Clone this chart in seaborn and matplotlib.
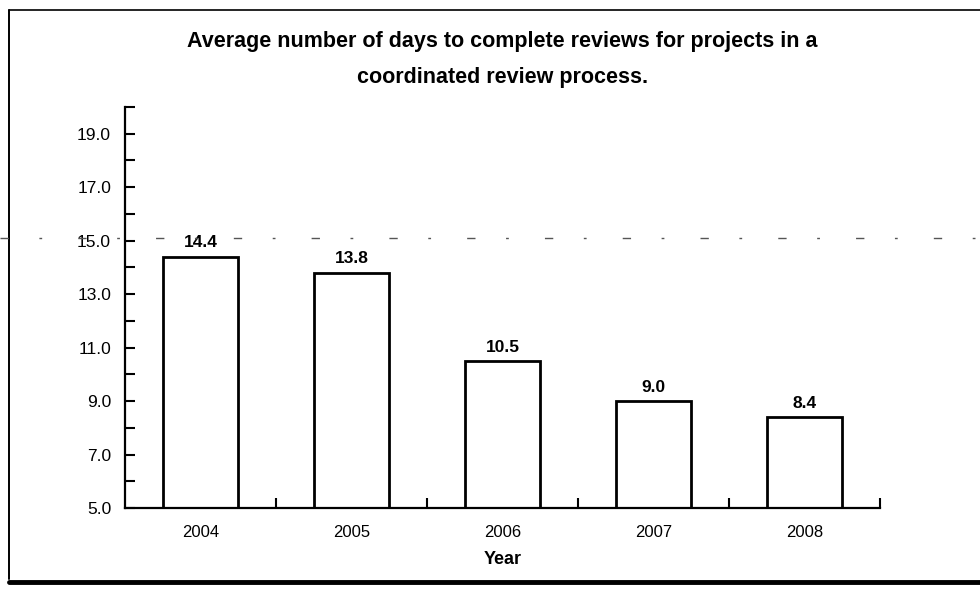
import matplotlib
matplotlib.use("Agg")
import matplotlib.pyplot as plt
from matplotlib.lines import Line2D
from matplotlib.ticker import FixedLocator, FormatStrFormatter
import seaborn as sns
import pandas as pd

# Data
years = ["2004", "2005", "2006", "2007", "2008"]
avg_days = [14.4, 13.8, 10.5, 9.0, 8.4]
y_major = [5, 7, 9, 11, 13, 15, 17, 19]
y_minor = [6, 8, 10, 12, 14, 16, 18, 20]
x_minor = [0.5, 1.5, 2.5, 3.5, 4.5]

title_line1 = "Average number of days to complete reviews for projects in a"
title_line2 = "coordinated review process."

df = pd.DataFrame({"Year": years, "Days": avg_days})

sns.set_theme(style="white")
plt.rcParams["font.family"] = ["Liberation Sans", "DejaVu Sans"]

W, H = 980, 589
fig = plt.figure(figsize=(W / 100, H / 100), dpi=100)
ax = fig.add_axes([125 / W, 1 - 508 / H, (880 - 125) / W, (508 - 107) / H])

sns.barplot(data=df, x="Year", y="Days", ax=ax, color="white",
            edgecolor="black", linewidth=2.0, width=0.5, saturation=1)

ax.set_ylim(5, 20)
ax.set_xlim(-0.5, len(years) - 0.5)

# Axes: only left and bottom spines, inward ticks
for side in ("top", "right"):
    ax.spines[side].set_visible(False)
for side in ("left", "bottom"):
    ax.spines[side].set_color("black")
    ax.spines[side].set_linewidth(1.6)

ax.yaxis.set_major_locator(FixedLocator(y_major))
ax.yaxis.set_minor_locator(FixedLocator(y_minor))
ax.yaxis.set_major_formatter(FormatStrFormatter("%.1f"))
ax.tick_params(axis="y", which="both", direction="in", length=7, width=1.5,
               color="black", left=True, labelsize=12.5, pad=10, labelcolor="black")

ax.xaxis.set_minor_locator(FixedLocator(x_minor))
ax.tick_params(axis="x", which="major", length=0, labelsize=12, pad=12,
               labelcolor="black")
ax.tick_params(axis="x", which="minor", direction="in", length=7, width=1.5,
               color="black", bottom=True)

ax.set_ylabel("")
ax.set_xlabel("Year", fontsize=13, fontweight="bold", color="black", labelpad=8)

# Value labels above bars
for i, v in enumerate(avg_days):
    ax.annotate(f"{v:.1f}", xy=(i, v), xytext=(0, 4.5), textcoords="offset points",
                ha="center", va="bottom", fontsize=12.5, fontweight="bold",
                color="black")

# Title (two centred lines over the plot area)
cx = (125 + 880) / 2 / W
fig.text(cx, 1 - 41 / H, title_line1, ha="center", va="center",
         fontsize=15.5, fontweight="bold", color="black")
fig.text(cx, 1 - 78 / H, title_line2, ha="center", va="center",
         fontsize=15.5, fontweight="bold", color="black")

# Page frame lines
fig.add_artist(Line2D([9 / W, 1.0], [1 - 10 / H, 1 - 10 / H], color="black", lw=1.2))
fig.add_artist(Line2D([9 / W, 9 / W], [1 - 10 / H, 1 - 579 / H], color="black", lw=1.4))
fig.add_artist(Line2D([9 / W, 1.0], [1 - 582 / H, 1 - 582 / H], color="black", lw=3.5))

# Faint dashed rule running across the page near the 15-day level
fig.add_artist(Line2D([0.0, 1.0], [1 - 238 / H, 1 - 238 / H], color="#555555",
                      lw=1.0, dashes=(6, 22, 2, 26)))

fig.savefig("out.png", dpi=100)
